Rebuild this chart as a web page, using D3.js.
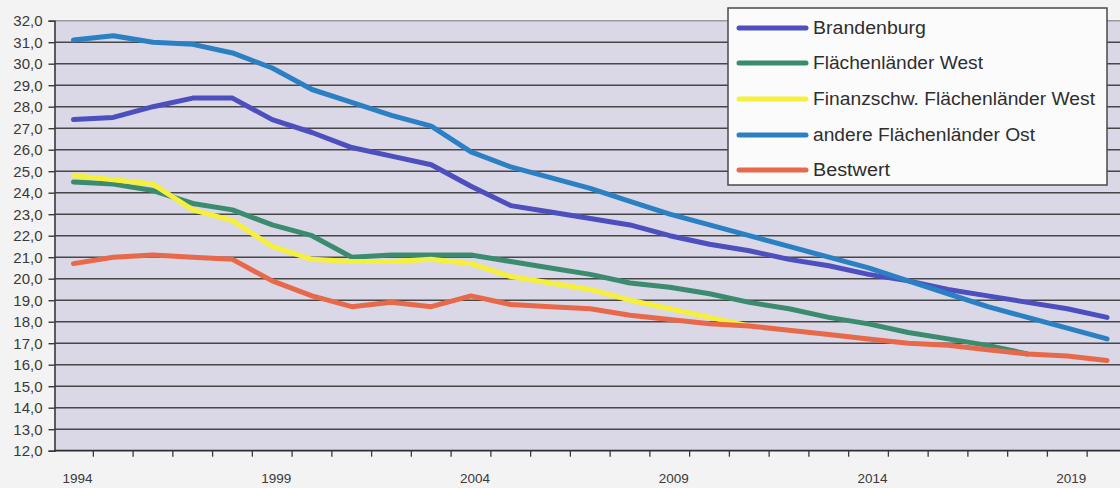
<!DOCTYPE html>
<html>
<head>
<meta charset="utf-8">
<script src="https://cdn.jsdelivr.net/npm/d3@7"></script>
<style>
  html, body { margin: 0; padding: 0; background: #f3f3f3; }
  svg { display: block; }
</style>
</head>
<body>
<svg id="chart" width="1120" height="488"></svg>
<script>
// Kategorien (Jahre) und Reihenwerte
const years = [1994, 1995, 1996, 1997, 1998, 1999, 2000, 2001, 2002, 2003, 2004, 2005, 2006,
               2007, 2008, 2009, 2010, 2011, 2012, 2013, 2014, 2015, 2016, 2017, 2018, 2019, 2020];

const brandenburg = [27.4, 27.5, 28.0, 28.4, 28.4, 27.4, 26.8, 26.1, 25.7, 25.3, 24.3, 23.4, 23.1,
                     22.8, 22.5, 22.0, 21.6, 21.3, 20.9, 20.6, 20.2, 19.9, 19.5, 19.2, 18.9, 18.6, 18.2];

const flaechenWest = [24.5, 24.4, 24.1, 23.5, 23.2, 22.5, 22.0, 21.0, 21.1, 21.1, 21.1, 20.8, 20.5,
                      20.2, 19.8, 19.6, 19.3, 18.9, 18.6, 18.2, 17.9, 17.5, 17.2, 16.9, 16.5, null, null];

const finanzschwWest = [24.8, 24.6, 24.4, 23.2, 22.7, 21.5, 20.9, 20.8, 20.8, 20.9, 20.7, 20.1, 19.8,
                        19.5, 19.0, 18.6, 18.2, 17.8, null, null, null, null, null, null, null, null, null];

const andereOst = [31.1, 31.3, 31.0, 30.9, 30.5, 29.8, 28.8, 28.2, 27.6, 27.1, 25.9, 25.2, 24.7,
                   24.2, 23.6, 23.0, 22.5, 22.0, 21.5, 21.0, 20.5, 19.9, 19.3, 18.7, 18.2, 17.7, 17.2];

const bestwert = [20.7, 21.0, 21.1, 21.0, 20.9, 19.9, 19.2, 18.7, 18.9, 18.7, 19.2, 18.8, 18.7,
                  18.6, 18.3, 18.1, 17.9, 17.8, 17.6, 17.4, 17.2, 17.0, 16.9, 16.7, 16.5, 16.4, 16.2];

const seriesNames = ["Brandenburg", "Flächenländer West", "Finanzschw. Flächenländer West",
                     "andere Flächenländer Ost", "Bestwert"];
const seriesValues = [brandenburg, flaechenWest, finanzschwWest, andereOst, bestwert];
const seriesColors = ["#4c4fbd", "#3b8c6e", "#f4f03c", "#2b80c3", "#e8694a"];

const yTicks = [12, 13, 14, 15, 16, 17, 18, 19, 20, 21, 22, 23, 24, 25, 26, 27, 28, 29, 30, 31, 32];
const xLabelYears = [1994, 1999, 2004, 2009, 2014, 2019];

// Layout
const svg = d3.select("#chart");
const W = 1120, H = 488;
const plot = { left: 54.5, top: 20.7, bottom: 450.7, right: 1120 };

const x = d3.scaleBand().domain(years).range([53.6, 1126.9]).paddingInner(0).paddingOuter(0);
const cx = d => x(d) + x.bandwidth() / 2;
const y = d3.scaleLinear().domain([12, 32]).range([plot.bottom, plot.top]);

const de = d3.formatLocale({ decimal: ",", thousands: ".", grouping: [3], currency: ["", " €"] });
const fmt = de.format(".1f");

// Hintergrund
svg.append("rect").attr("x", 0).attr("y", 0).attr("width", W).attr("height", H).attr("fill", "#f3f3f3");
svg.append("rect")
  .attr("x", plot.left).attr("y", plot.top)
  .attr("width", plot.right - plot.left).attr("height", plot.bottom - plot.top)
  .attr("fill", "#dad7e7");

// Gitterlinien
svg.append("g")
  .selectAll("line")
  .data(yTicks.filter(t => t > 12))
  .join("line")
  .attr("x1", plot.left).attr("x2", plot.right)
  .attr("y1", d => y(d)).attr("y2", d => y(d))
  .attr("stroke", d => d === 32 ? "#9a9a9a" : "#474747")
  .attr("stroke-width", 1.6);

// Y-Achse
const yAxis = d3.axisLeft(y).tickValues(yTicks).tickFormat(fmt).tickSize(6).tickPadding(6);
const gy = svg.append("g").attr("transform", `translate(${plot.left},0)`).call(yAxis);
gy.select(".domain").attr("stroke", "#3a3a3a").attr("stroke-width", 1.6);
gy.selectAll(".tick line").attr("stroke", "#3a3a3a").attr("stroke-width", 1.4);
gy.selectAll(".tick text")
  .attr("fill", "#3a3a3a")
  .style("font-family", "'Liberation Sans', Arial, sans-serif")
  .style("font-size", "15px");

// X-Achse
const tickPositions = years.map(d => x(d)).concat([x(years[years.length - 1]) + x.bandwidth()]);
const gx = svg.append("g");
gx.append("line")
  .attr("x1", plot.left).attr("x2", plot.right)
  .attr("y1", plot.bottom).attr("y2", plot.bottom)
  .attr("stroke", "#2e2e2e").attr("stroke-width", 1.8);
gx.selectAll("line.tk")
  .data(tickPositions.filter(p => p > plot.left + 2 && p < W))
  .join("line")
  .attr("class", "tk")
  .attr("x1", d => d).attr("x2", d => d)
  .attr("y1", plot.bottom).attr("y2", plot.bottom + 6)
  .attr("stroke", "#3a3a3a").attr("stroke-width", 1.3);
gx.selectAll("text")
  .data(xLabelYears)
  .join("text")
  .attr("x", d => cx(d) + 4)
  .attr("y", 483)
  .attr("text-anchor", "middle")
  .attr("fill", "#3a3a3a")
  .style("font-family", "'Liberation Sans', Arial, sans-serif")
  .style("font-size", "13.5px")
  .text(d => d);

// Linien
const line = d3.line()
  .defined(d => d.v !== null)
  .x(d => cx(d.year))
  .y(d => y(d.v))
  .curve(d3.curveLinear);

svg.append("g")
  .selectAll("path")
  .data(seriesValues.map((vals, i) => ({ i, pts: years.map((yr, k) => ({ year: yr, v: vals[k] })) })))
  .join("path")
  .attr("d", d => line(d.pts))
  .attr("fill", "none")
  .attr("stroke", d => seriesColors[d.i])
  .attr("stroke-width", 5)
  .attr("stroke-linecap", "round")
  .attr("stroke-linejoin", "round");

// Legende
const legend = svg.append("g");
legend.append("rect")
  .attr("x", 728).attr("y", 8).attr("width", 379).attr("height", 177)
  .attr("fill", "#fbfbfb").attr("stroke", "#4a4a4a").attr("stroke-width", 1.5);

const legendRows = [28, 63, 99, 135, 170];
const legendWidths = [113, 170, 282, 222, 77];
const items = legend.selectAll("g.item")
  .data(seriesNames.map((n, i) => ({ n, i })))
  .join("g")
  .attr("class", "item")
  .attr("transform", d => `translate(0,${legendRows[d.i]})`);
items.append("line")
  .attr("x1", 739).attr("x2", 806).attr("y1", 0).attr("y2", 0)
  .attr("stroke", d => seriesColors[d.i])
  .attr("stroke-width", 5)
  .attr("stroke-linecap", "round");
items.append("text")
  .attr("x", 813).attr("y", 6)
  .attr("fill", "#2e2e2e")
  .attr("textLength", d => legendWidths[d.i])
  .attr("lengthAdjust", "spacingAndGlyphs")
  .style("font-family", "'Liberation Sans', Arial, sans-serif")
  .style("font-size", "17.5px")
  .text(d => d.n);
</script>
</body>
</html>
